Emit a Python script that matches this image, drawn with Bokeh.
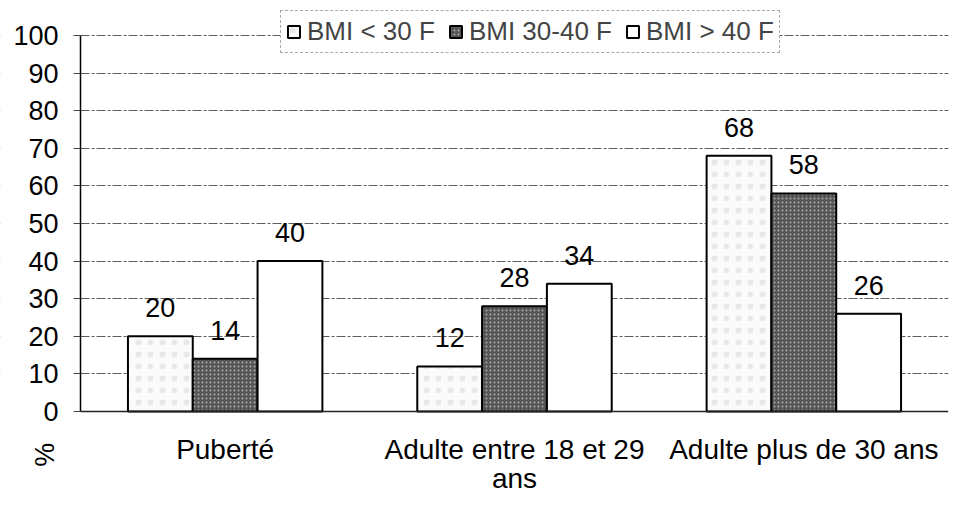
import math
from bokeh.plotting import figure
from bokeh.models import (Range1d, FixedTicker, ColumnDataSource, LabelSet, Label,
                          Legend, LinearAxis, BoxAnnotation, Grid)
from bokeh.core.properties import value
from bokeh.transform import dodge
from bokeh.embed import file_html
from bokeh.resources import INLINE

# ---- data ----
categories = ["Puberté", "Adulte entre 18 et 29 ans", "Adulte plus de 30 ans"]
label_line1 = ["Puberté", "Adulte entre 18 et 29", "Adulte plus de 30 ans"]
label_line2 = ["", "ans", ""]
series_names = ["BMI < 30 F", "BMI 30-40 F", "BMI > 40 F"]
bmi_lt30 = [20, 12, 68]
bmi_30_40 = [14, 28, 58]
bmi_gt40 = [40, 34, 26]
y_ticks = [0, 10, 20, 30, 40, 50, 60, 70, 80, 90, 100]
y_label = "%"

FONT = "Liberation Sans"
W, H = 949, 517
# layout of the reference (pixels): value axis at x=80, plot right edge x=948,
# value 0 at y=411, value 100 at y=35
cat_px = (948 - 80) / len(categories)
px_per_unit = (411 - 35) / 100.0
x_start = -80 / cat_px
x_end = len(categories)
y_start = -(H - 411) / px_per_unit
y_end = (411 - 10) / px_per_unit

centers = [i + 0.5 for i in range(len(categories))]
src = ColumnDataSource(dict(xc=centers, a=bmi_lt30, b=bmi_30_40, c=bmi_gt40,
                            la=[str(v) for v in bmi_lt30],
                            lb=[str(v) for v in bmi_30_40],
                            lc=[str(v) for v in bmi_gt40]))

p = figure(x_range=Range1d(x_start, x_end), y_range=Range1d(y_start, y_end),
           width=W, height=H, output_backend="svg", toolbar_location=None,
           x_axis_type=None, y_axis_type=None,
           min_border_left=0, min_border_right=1, min_border_top=10,
           min_border_bottom=0)
p.outline_line_color = None
p.background_fill_color = "white"
p.border_fill_color = "white"

# horizontal grid lines
grid = Grid(dimension=1, ticker=FixedTicker(ticks=y_ticks[1:]),
            grid_line_color="#333333", grid_line_dash="9 2 3 2",
            grid_line_width=1, grid_line_alpha=0.8)
p.add_layout(grid)
# keep the grid lines off the tick-label margin
p.add_layout(BoxAnnotation(left=x_start, right=0, bottom=y_start, top=y_end,
                           fill_color="white", fill_alpha=1, line_color=None,
                           level="glyph"))

bw = 0.224
styles = [
    dict(fill_color="#fbfbfb", hatch_pattern="dot", hatch_color="#bdbdbd", hatch_scale=12, hatch_alpha=0.3),
    dict(fill_color="#555555", hatch_pattern="dot", hatch_color="#cfcfcf", hatch_scale=4, hatch_alpha=0.7),
    dict(fill_color="#ffffff"),
]
fields = ["a", "b", "c"]
lfields = ["la", "lb", "lc"]
offsets = [-bw, 0.0, bw]
renderers = []
for f, off, st, nm in zip(fields, offsets, styles, series_names):
    r = p.vbar(x=dodge("xc", off), top=f, width=bw, bottom=0,
               source=src, line_color="black", line_width=2, **st)
    renderers.append((nm, r))

for f, lf, off in zip(fields, lfields, offsets):
    ls = LabelSet(x=dodge("xc", off), y=f, text=lf, source=src,
                  text_align="center", text_baseline="alphabetic", y_offset=19,
                  text_font=value(FONT), text_font_size=value("27px"),
                  text_color="black")
    p.add_layout(ls)

legend = Legend(items=[(nm, [r]) for nm, r in renderers], orientation="horizontal",
                location=(280, H - 53))
legend.label_text_font = FONT
legend.label_text_font_size = "26px"
legend.glyph_width = 15
legend.glyph_height = 15
legend.label_standoff = 6
legend.spacing = 13
legend.padding = 5
legend.margin = 0
legend.border_line_color = "#555555"
legend.border_line_dash = "3 2"
legend.border_line_width = 1
legend.background_fill_color = "white"
legend.background_fill_alpha = 1
p.add_layout(legend, "center")

# value axis, drawn at the left edge of the categories
yax = LinearAxis(fixed_location=0, bounds=(0, 100), ticker=FixedTicker(ticks=y_ticks),
                 major_label_text_font=FONT, major_label_text_font_size="27px",
                 major_label_text_color="black", major_tick_out=7, major_tick_in=0,
                 minor_tick_out=0, minor_tick_in=0, major_label_standoff=15,
                 axis_line_color="black", axis_line_width=1.5,
                 major_tick_line_color="#444444", minor_tick_line_color=None)
p.add_layout(yax, "left")

# category axis (first line of the labels), drawn at value 0
xax = LinearAxis(fixed_location=0, bounds=(0, x_end), ticker=FixedTicker(ticks=centers),
                 major_label_overrides={c: t for c, t in zip(centers, label_line1)},
                 major_label_text_font=FONT, major_label_text_font_size="28px",
                 major_label_text_color="black", major_tick_out=0, major_tick_in=0,
                 minor_tick_out=0, minor_tick_in=0, major_label_standoff=22,
                 axis_line_color="#222222", axis_line_width=1.5,
                 major_tick_line_color=None, minor_tick_line_color=None)
p.add_layout(xax, "below")

# second line of the wrapped category label
ax2 = LinearAxis(fixed_location=0, bounds=(0, x_end), ticker=FixedTicker(ticks=centers),
                 major_label_overrides={c: t for c, t in zip(centers, label_line2)},
                 major_label_text_font=FONT, major_label_text_font_size="28px",
                 major_label_text_color="black", major_tick_out=0, major_tick_in=0,
                 minor_tick_out=0, minor_tick_in=0, major_label_standoff=51,
                 axis_line_color=None, major_tick_line_color=None,
                 minor_tick_line_color=None)
p.add_layout(ax2, "below")

# "%" unit label, rotated, below the value axis
p.add_layout(Label(x=(44 - 80) / cat_px, y=-11.5, text=y_label, angle=math.pi / 2,
                   text_align="center", text_baseline="middle", text_font=FONT,
                   text_font_size="27px", text_color="black"))

open("out.html", "w").write(file_html(p, INLINE))
